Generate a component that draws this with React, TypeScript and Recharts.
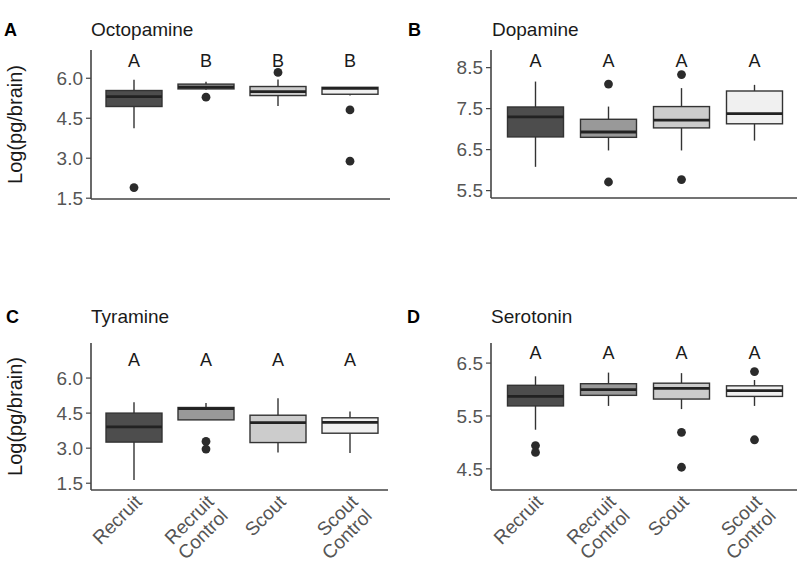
import React from "react";
import { ComposedChart, Bar, XAxis, YAxis } from "recharts";

const FONT = "'Liberation Sans', Arial, Helvetica, sans-serif";

const categories = ["Recruit", "Recruit Control", "Scout", "Scout Control"];
const tickLines = [["Recruit"], ["Recruit", "Control"], ["Scout"], ["Scout", "Control"]];
const boxFills = ["#4d4d4d", "#999999", "#cccccc", "#f0f0f0"];

// Octopamine
const octoLow = [4.12, 5.57, 4.96, 5.35];
const octoQ1 = [4.94, 5.6, 5.35, 5.4];
const octoMed = [5.31, 5.67, 5.5, 5.62];
const octoQ3 = [5.54, 5.78, 5.69, 5.66];
const octoHigh = [5.94, 5.87, 5.95, 5.66];
const octoOut = [[1.9], [5.29], [6.22], [4.81, 2.89]];
const octoLetters = ["A", "B", "B", "B"];
const octoTicks = [1.5, 3.0, 4.5, 6.0];

// Dopamine
const dopaLow = [6.08, 6.48, 6.48, 6.72];
const dopaQ1 = [6.81, 6.8, 7.03, 7.13];
const dopaMed = [7.3, 6.93, 7.22, 7.38];
const dopaQ3 = [7.54, 7.24, 7.55, 7.93];
const dopaHigh = [8.16, 7.55, 8.0, 8.08];
const dopaOut = [[], [8.1, 5.71], [8.33, 5.77], []];
const dopaLetters = ["A", "A", "A", "A"];
const dopaTicks = [5.5, 6.5, 7.5, 8.5];

// Tyramine
const tyraLow = [1.64, 4.21, 2.81, 2.79];
const tyraQ1 = [3.26, 4.21, 3.24, 3.64];
const tyraMed = [3.91, 4.69, 4.09, 4.1];
const tyraQ3 = [4.5, 4.74, 4.41, 4.3];
const tyraHigh = [4.96, 4.93, 5.14, 4.57];
const tyraOut = [[], [3.29, 2.96], [], []];
const tyraLetters = ["A", "A", "A", "A"];
const tyraTicks = [1.5, 3.0, 4.5, 6.0];

// Serotonin
const seroLow = [5.24, 5.69, 5.63, 5.69];
const seroQ1 = [5.69, 5.89, 5.82, 5.87];
const seroMed = [5.87, 6.0, 6.02, 5.98];
const seroQ3 = [6.08, 6.11, 6.12, 6.07];
const seroHigh = [6.25, 6.32, 6.31, 6.18];
const seroOut = [[4.94, 4.81], [], [5.19, 4.53], [6.34, 5.05]];
const seroLetters = ["A", "A", "A", "A"];
const seroTicks = [4.5, 5.5, 6.5];

type Row = {
  name: string;
  idx: number;
  lo: number;
  q1: number;
  med: number;
  q3: number;
  hi: number;
  out: number[];
  letter: string;
  letterY: number;
};

function buildRows(
  lo: number[], q1: number[], med: number[], q3: number[], hi: number[],
  out: number[][], letters: string[], letterY: number
): Row[] {
  return categories.map((name, i) => ({
    name, idx: i, lo: lo[i], q1: q1[i], med: med[i], q3: q3[i], hi: hi[i],
    out: out[i], letter: letters[i], letterY,
  }));
}

const octoRows = buildRows(octoLow, octoQ1, octoMed, octoQ3, octoHigh, octoOut, octoLetters, 6.65);
const dopaRows = buildRows(dopaLow, dopaQ1, dopaMed, dopaQ3, dopaHigh, dopaOut, dopaLetters, 8.66);
const tyraRows = buildRows(tyraLow, tyraQ1, tyraMed, tyraQ3, tyraHigh, tyraOut, tyraLetters, 6.78);
const seroRows = buildRows(seroLow, seroQ1, seroMed, seroQ3, seroHigh, seroOut, seroLetters, 6.69);

const STROKE = "#333333";

const BoxShape = (props: any) => {
  const { x, y, width, height, payload } = props;
  const p: Row = payload;
  const span = p.hi - p.lo;
  const px = (v: number) => y + (height * (p.hi - v)) / span;
  const cx = x + width / 2;
  const yQ1 = px(p.q1);
  const yQ3 = px(p.q3);
  return (
    <g>
      <line x1={cx} x2={cx} y1={px(p.hi)} y2={yQ3} stroke={STROKE} strokeWidth={1.4} />
      <line x1={cx} x2={cx} y1={yQ1} y2={px(p.lo)} stroke={STROKE} strokeWidth={1.4} />
      <rect x={x} y={yQ3} width={width} height={Math.max(yQ1 - yQ3, 0.5)} fill={boxFills[p.idx]} stroke={STROKE} strokeWidth={1.4} />
      <line x1={x} x2={x + width} y1={px(p.med)} y2={px(p.med)} stroke="#222222" strokeWidth={2.8} />
      {p.out.map((v, k) => (
        <circle key={k} cx={cx} cy={px(v)} r={4.4} fill="#2b2b2b" />
      ))}
      <text x={cx} y={px(p.letterY)} textAnchor="middle" dominantBaseline="central" fontFamily={FONT} fontSize={18} fill="#1a1a1a">
        {p.letter}
      </text>
    </g>
  );
};

const XTick = (props: any) => {
  const { x, y, index } = props;
  const lines = tickLines[index] || [];
  return (
    <g transform={`translate(${x + 9},${y + 7})`}>
      <text transform="rotate(-45)" textAnchor="end" fontFamily={FONT} fontSize={19} fill="#555555">
        {lines.map((l, k) => (
          <tspan key={k} x={0} dy={k === 0 ? 0 : "1.05em"}>{l}</tspan>
        ))}
      </text>
    </g>
  );
};

type PanelProps = {
  rows: Row[];
  domain: [number, number];
  ticks: number[];
  left: number;
  top: number;
  width: number;
  height: number;
  margin: { top: number; right: number; left: number; bottom: number };
  padding: { left: number; right: number };
  xLabels: boolean;
  xHeight: number;
  yLabel: boolean;
  letter: string;
  title: string;
  titleX: number;
  titleY: number;
  letterX: number;
};

const Panel = (pp: PanelProps) => {
  const plotTop = pp.margin.top;
  const plotBottom = pp.height - pp.margin.bottom - pp.xHeight;
  return (
    <div style={{ position: "absolute", left: pp.left, top: pp.top, width: pp.width, height: pp.height }}>
      <ComposedChart width={pp.width} height={pp.height} data={pp.rows} margin={pp.margin}>
        <XAxis
          dataKey="name"
          type="category"
          padding={pp.padding}
          height={pp.xHeight}
          axisLine={{ stroke: "#444444", strokeWidth: 1.6 }}
          tickLine={false}
          tick={pp.xLabels ? <XTick /> : false}
          interval={0}
          tickSize={4}
          tickMargin={2}
        />
        <YAxis
          type="number"
          domain={pp.domain}
          ticks={pp.ticks}
          allowDataOverflow
          width={60}
          axisLine={{ stroke: "#444444", strokeWidth: 1.6 }}
          tickLine={{ stroke: "#444444", strokeWidth: 1.2 }}
          tickSize={5}
          tickMargin={3}
          tickFormatter={(v: number) => v.toFixed(1)}
          tick={{ fontFamily: FONT, fontSize: 19, fill: "#555555" }}
        />
        <Bar
          dataKey={(d: Row) => [d.lo, d.hi]}
          barSize={56}
          shape={<BoxShape />}
          isAnimationActive={false}
        />
      </ComposedChart>
      <svg width={pp.width} height={pp.height} style={{ position: "absolute", left: 0, top: 0, pointerEvents: "none" }}>
        <text x={pp.letterX} y={pp.titleY} fontFamily={FONT} fontWeight="bold" fontSize={18} fill="#000">{pp.letter}</text>
        <text x={pp.titleX} y={pp.titleY} fontFamily={FONT} fontSize={19} fill="#1a1a1a">{pp.title}</text>
        {pp.yLabel && (
          <text
            transform={`translate(22,${(plotTop + plotBottom) / 2}) rotate(-90)`}
            textAnchor="middle"
            fontFamily={FONT}
            fontSize={20}
            fill="#1a1a1a"
          >
            Log(pg/brain)
          </text>
        )}
      </svg>
    </div>
  );
};

export default function App() {
  return (
    <div style={{ position: "absolute", left: 0, top: 0, width: 800, height: 569, background: "#ffffff", overflow: "hidden" }}>
      <Panel
        rows={octoRows} domain={[1.47, 7.06]} ticks={octoTicks}
        left={0} top={0} width={400} height={210}
        margin={{ top: 50, right: 10, left: 31, bottom: 10 }}
        padding={{ left: 7, right: 4 }}
        xLabels={false} xHeight={1} yLabel
        letter="A" title="Octopamine" titleX={91} titleY={36} letterX={4}
      />
      <Panel
        rows={dopaRows} domain={[5.32, 8.93]} ticks={dopaTicks}
        left={400} top={0} width={400} height={210}
        margin={{ top: 50, right: 3, left: 31, bottom: 11 }}
        padding={{ left: 7.5, right: 6.5 }}
        xLabels={false} xHeight={1} yLabel={false}
        letter="B" title="Dopamine" titleX={92} titleY={36} letterX={8}
      />
      <Panel
        rows={tyraRows} domain={[1.21, 7.5]} ticks={tyraTicks}
        left={0} top={300} width={400} height={269}
        margin={{ top: 43, right: 12, left: 31, bottom: 0 }}
        padding={{ left: 7, right: 2 }}
        xLabels xHeight={79} yLabel
        letter="C" title="Tyramine" titleX={91} titleY={23} letterX={6}
      />
      <Panel
        rows={seroRows} domain={[4.1, 6.88]} ticks={seroTicks}
        left={400} top={300} width={400} height={269}
        margin={{ top: 43, right: 3, left: 31, bottom: 0 }}
        padding={{ left: 7.5, right: 6.5 }}
        xLabels xHeight={79} yLabel={false}
        letter="D" title="Serotonin" titleX={91} titleY={23} letterX={7}
      />
    </div>
  );
}
